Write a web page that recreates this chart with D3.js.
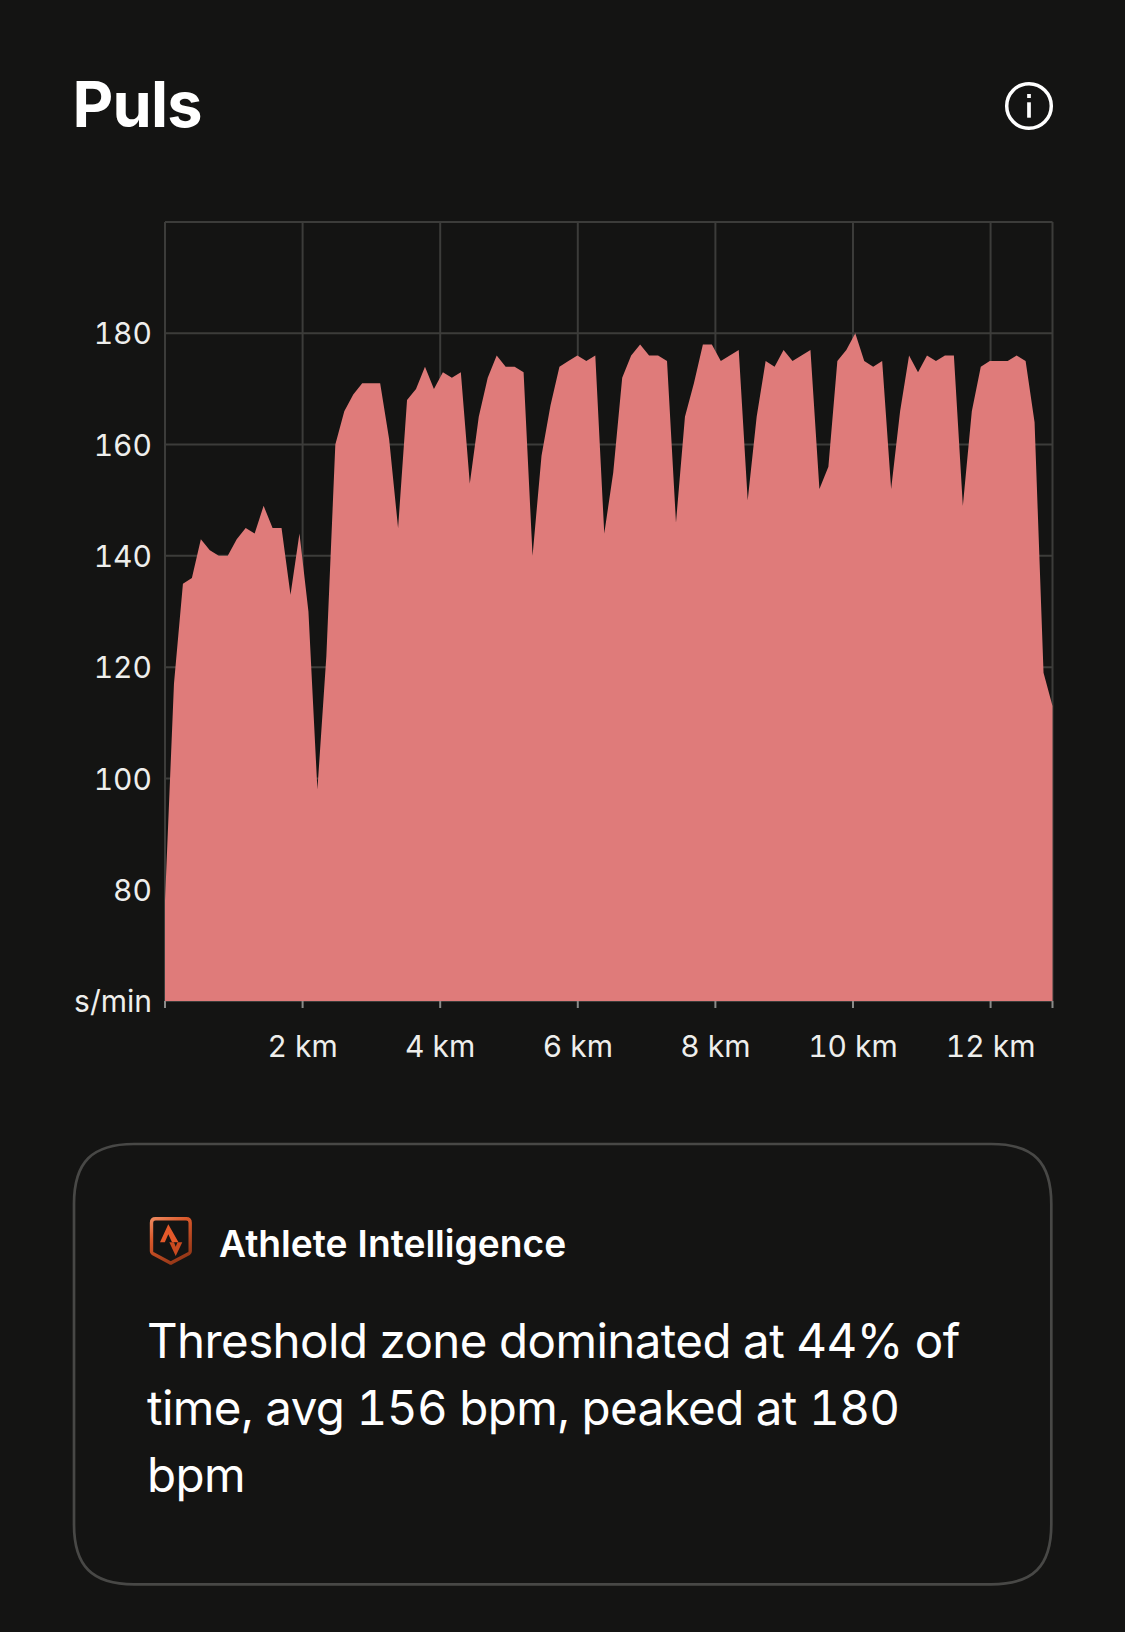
<!DOCTYPE html>
<html>
<head>
<meta charset="utf-8">
<script src="https://cdn.jsdelivr.net/npm/d3@7"></script>
<style>
  html, body { margin: 0; background: #141413; }
  svg { display: block; }
  text { font-family: Inter, "Noto Sans", sans-serif; font-variant-numeric: tabular-nums; }
  .domain { display: none; }
</style>
</head>
<body>
<div id="chart"></div>
<script>
// heart rate samples (evenly spaced along the distance)
var pulse = [
    78, 117, 135, 136, 143, 141, 140, 140, 143, 145,
    144, 149, 145, 145, 133, 144, 130, 98, 122, 160,
    166, 169, 171, 171, 171, 161, 145, 168, 170, 174,
    170, 173, 172, 173, 153, 165, 172, 176, 174, 174,
    173, 140, 158, 167, 174, 175, 176, 175, 176, 144,
    155, 172, 176, 178, 176, 176, 175, 146, 165, 171,
    178, 178, 175, 176, 177, 150, 165, 175, 174, 177,
    175, 176, 177, 152, 156, 175, 177, 180, 175, 174,
    175, 152, 166, 176, 173, 176, 175, 176, 176, 149,
    166, 174, 175, 175, 175, 176, 175, 164, 119, 113
];
var totalKm = 12.9;
var xTicks = [0, 2, 4, 6, 8, 10, 12, 12.9];
var xLabels = ["", "2 km", "4 km", "6 km", "8 km", "10 km", "12 km", ""];
var yTicks = [60, 80, 100, 120, 140, 160, 180, 200];
var yLabels = ["s/min", "80", "100", "120", "140", "160", "180", ""];
var summaryLines = ["Threshold zone dominated at 44% of", "time, avg 156 bpm, peaked at 180", "bpm"];

var margin = {top: 222, right: 72.5, bottom: 631, left: 165};
var width = 1125 - margin.left - margin.right;
var height = 1632 - margin.top - margin.bottom;

var svg = d3.select("#chart").append("svg")
    .attr("width", 1125)
    .attr("height", 1632);

// Title and info button
svg.append("text")
    .text("Puls")
    .attr("x", 72.5)
    .attr("y", 126.7)
    .attr("fill", "#ffffff")
    .attr("font-size", 63)
    .attr("font-weight", 650)
    .attr("letter-spacing", -0.8);

var info = svg.append("g").attr("transform", "translate(1029,106)");
info.append("circle")
    .attr("r", 22.3)
    .attr("fill", "none")
    .attr("stroke", "#ffffff")
    .attr("stroke-width", 3.5);
info.append("rect")
    .attr("x", -1.85)
    .attr("y", -12)
    .attr("width", 3.7)
    .attr("height", 4)
    .attr("fill", "#ffffff");
info.append("rect")
    .attr("x", -1.85)
    .attr("y", -3.7)
    .attr("width", 3.7)
    .attr("height", 15.4)
    .attr("fill", "#ffffff");

var g = svg.append("g")
    .attr("transform", "translate(" + margin.left + "," + margin.top + ")");

var x = d3.scaleLinear().domain([0, totalKm]).range([0, width]);
var y = d3.scaleLinear().domain([60, 200]).range([height, 0]);

// Grid lines
g.append("g")
    .attr("class", "grid x")
    .attr("transform", "translate(0," + height + ")")
    .call(d3.axisBottom(x).tickValues(xTicks).tickSize(-height).tickFormat("").offset(0));
g.append("g")
    .attr("class", "grid y")
    .call(d3.axisLeft(y).tickValues(yTicks).tickSize(-width).tickFormat("").offset(0));
g.selectAll(".grid line")
    .attr("stroke", "#3c3c3a")
    .attr("stroke-width", 2);

// Area
var area = d3.area()
    .x(function (d, i) {
        return x(i * totalKm / (pulse.length - 1));
    })
    .y0(height)
    .y1(function (d) {
        return y(d);
    });

g.append("path")
    .datum(pulse)
    .attr("fill", "#df7b7a")
    .attr("d", area);

// Axes with labels
var xAxis = g.append("g")
    .attr("transform", "translate(0," + height + ")")
    .call(d3.axisBottom(x)
        .tickValues(xTicks)
        .tickSize(7)
        .tickPadding(28)
        .offset(0)
        .tickFormat(function (d, i) {
            return xLabels[i];
        }));
xAxis.selectAll("line").attr("stroke", "#8a8a88").attr("stroke-width", 2);

var yAxis = g.append("g")
    .call(d3.axisLeft(y)
        .tickValues(yTicks)
        .tickSize(0)
        .tickPadding(13)
        .offset(0)
        .tickFormat(function (d, i) {
            return yLabels[i];
        }));
yAxis.selectAll("text").attr("dy", "0.37em");

g.selectAll("text")
    .attr("fill", "#eeeeec")
    .attr("font-size", 30)
    .style("font-family", "Inter, sans-serif");

// Athlete Intelligence card, corners a little softer than a plain rounded rect
var card = {left: 74, top: 1144, right: 1051.3, bottom: 1584.3, corner: 60};
var cardPath = d3.path();
var c = card.corner, k = c * 0.3;
cardPath.moveTo(card.left + c, card.top);
cardPath.lineTo(card.right - c, card.top);
cardPath.bezierCurveTo(card.right - k, card.top, card.right, card.top + k, card.right, card.top + c);
cardPath.lineTo(card.right, card.bottom - c);
cardPath.bezierCurveTo(card.right, card.bottom - k, card.right - k, card.bottom, card.right - c, card.bottom);
cardPath.lineTo(card.left + c, card.bottom);
cardPath.bezierCurveTo(card.left + k, card.bottom, card.left, card.bottom - k, card.left, card.bottom - c);
cardPath.lineTo(card.left, card.top + c);
cardPath.bezierCurveTo(card.left, card.top + k, card.left + k, card.top, card.left + c, card.top);
cardPath.closePath();

svg.append("path")
    .attr("d", cardPath.toString())
    .attr("fill", "none")
    .attr("stroke", "#484846")
    .attr("stroke-width", 2.7);

var grad = svg.append("defs").append("linearGradient")
    .attr("id", "badge")
    .attr("gradientUnits", "userSpaceOnUse")
    .attr("x1", 2).attr("y1", 0)
    .attr("x2", 30).attr("y2", 47);
grad.append("stop").attr("offset", 0).attr("stop-color", "#ee8a60");
grad.append("stop").attr("offset", 0.35).attr("stop-color", "#d9582a");
grad.append("stop").attr("offset", 1).attr("stop-color", "#8f3415");

var badge = svg.append("g").attr("transform", "translate(150,1217.3)");
badge.append("path")
    .attr("d", "M5.5,1.5 H36.2 Q40.2,1.5 40.2,5.5 V34 Q40.2,35.5 39,36.2 L21.5,45.5 Q20.8,46 20,45.5 L2.7,36.2 Q1.5,35.5 1.5,34 V5.5 Q1.5,1.5 5.5,1.5 Z")
    .attr("fill", "none")
    .attr("stroke", "url(#badge)")
    .attr("stroke-width", 3.4);
badge.append("path")
    .attr("d", "M18.3,7 L28.5,25 L22,25 L18.3,17 L14.8,25 L10,25 Z")
    .attr("fill", "#e4592a");
badge.append("path")
    .attr("d", "M19.3,25 L24,25 L25.7,29.5 L27.5,25 L32.3,25 L25.7,38.7 Z")
    .attr("fill", "#c94a20");

svg.append("text")
    .text("Athlete Intelligence")
    .attr("x", 219)
    .attr("y", 1256.5)
    .attr("fill", "#ffffff")
    .attr("font-size", 37.2)
    .attr("font-weight", 600);

svg.append("g").selectAll("text")
    .data(summaryLines)
    .join("text")
    .text(function (d) {
        return d;
    })
    .attr("x", 147)
    .attr("y", function (d, i) {
        return 1357.5 + i * 67;
    })
    .attr("fill", "#ffffff")
    .attr("font-size", 47.5)
    .attr("letter-spacing", -0.6);
</script>
</body>
</html>
